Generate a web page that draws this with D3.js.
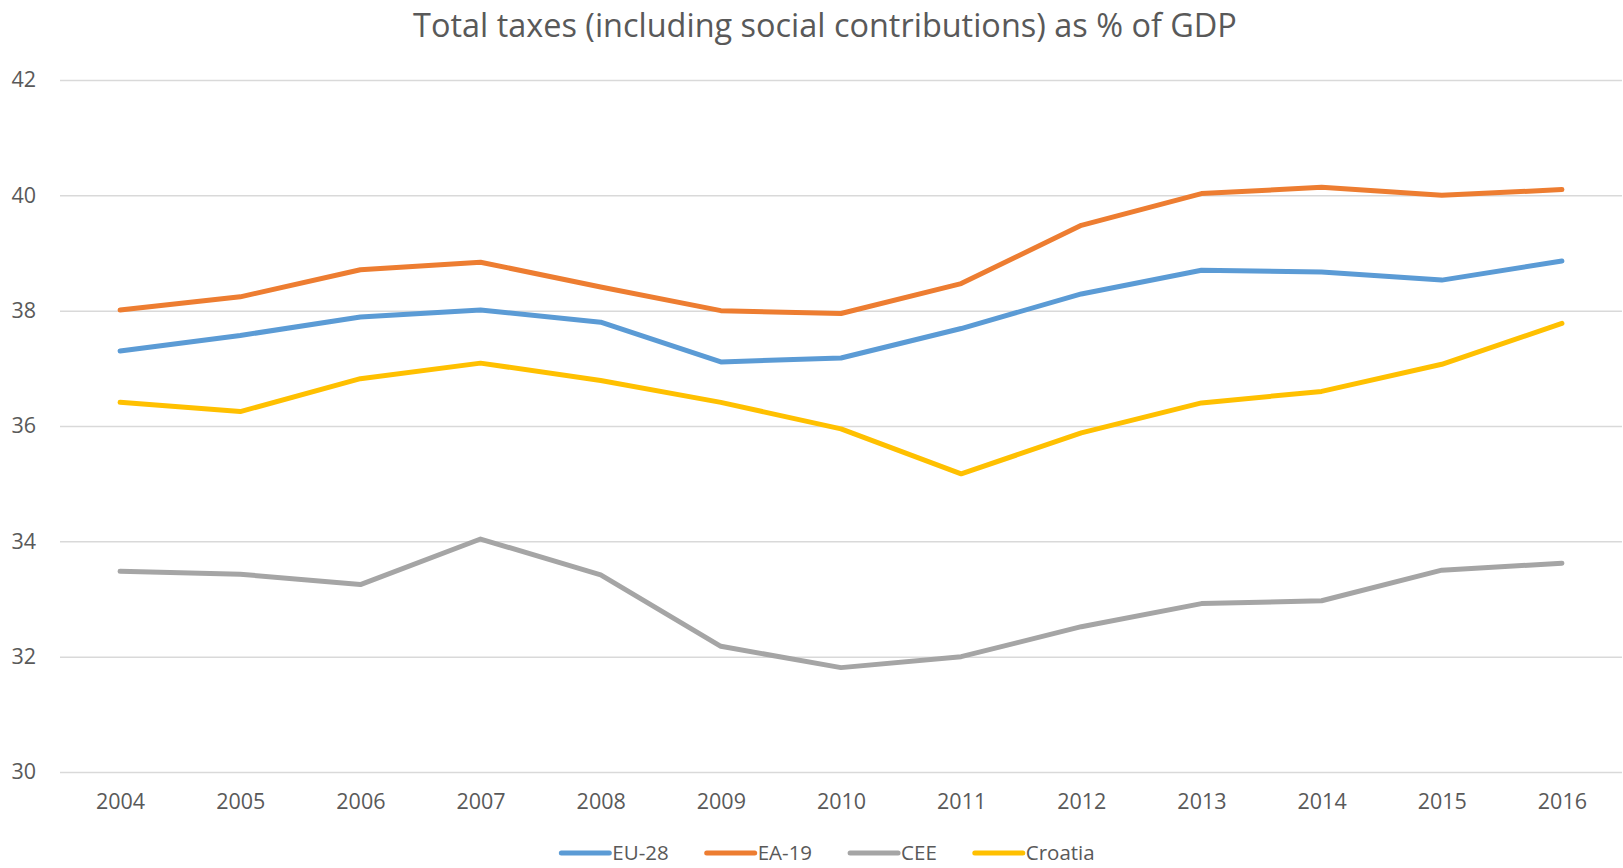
<!DOCTYPE html>
<html>
<head>
<meta charset="utf-8">
<script src="https://cdn.jsdelivr.net/npm/d3@7"></script>
<style>
  html, body { margin: 0; padding: 0; background: #ffffff; }
  svg { display: block; }
  text { font-family: "Open Sans", "DejaVu Sans", sans-serif; fill: #595959; }
</style>
</head>
<body>
<svg id="chart" width="1623" height="868"></svg>
<script>
// Tax revenue series (% of GDP), 2004–2016
const years = ["2004","2005","2006","2007","2008","2009","2010","2011","2012","2013","2014","2015","2016"];
const eu28    = [37.30, 37.57, 37.89, 38.01, 37.80, 37.11, 37.18, 37.69, 38.29, 38.70, 38.67, 38.53, 38.86];
const ea19    = [38.01, 38.24, 38.71, 38.84, 38.41, 38.00, 37.95, 38.47, 39.48, 40.03, 40.14, 40.00, 40.10];
const cee     = [33.48, 33.43, 33.25, 34.04, 33.42, 32.18, 31.81, 32.00, 32.52, 32.92, 32.97, 33.50, 33.62];
const croatia = [36.41, 36.25, 36.82, 37.09, 36.79, 36.41, 35.95, 35.17, 35.88, 36.40, 36.60, 37.07, 37.78];
const seriesNames = ["EU-28", "EA-19", "CEE", "Croatia"];
const yTicks = [30, 32, 34, 36, 38, 40, 42];
const titleText = "Total taxes (including social contributions) as % of GDP";

const series = [
  { name: seriesNames[0], values: eu28,    color: "#5B9BD5" },
  { name: seriesNames[1], values: ea19,    color: "#ED7D31" },
  { name: seriesNames[2], values: cee,     color: "#A5A5A5" },
  { name: seriesNames[3], values: croatia, color: "#FFC000" }
];

const svg = d3.select("#chart");
const plot = { left: 60, right: 1622, top: 80, bottom: 772 };
const labelSize = "21.5px";

const x = d3.scalePoint().domain(years).range([plot.left, plot.right]).padding(0.5);
const y = d3.scaleLinear().domain([30, 42]).range([plot.bottom, plot.top]);

// Title, sized to its measured width
const title = svg.append("text")
  .attr("x", 825).attr("y", 37)
  .attr("text-anchor", "middle")
  .style("font-size", "30px")
  .text(titleText);
const tw = title.node().getComputedTextLength();
title.style("font-size", (30 * 824 / tw).toFixed(2) + "px");

// Horizontal gridlines with value labels
const yAxis = svg.append("g")
  .attr("transform", `translate(${plot.left},0)`)
  .call(d3.axisLeft(y).tickValues(yTicks).tickSize(-(plot.right - plot.left)).tickPadding(24).tickFormat(d3.format("d")));
yAxis.select(".domain").remove();
yAxis.selectAll(".tick line").attr("stroke", "#d9d9d9").attr("stroke-width", 1.5);
yAxis.selectAll(".tick text")
  .attr("fill", "#595959")
  .style("font-size", labelSize)
  .style("font-family", "'Open Sans', sans-serif");

// Category labels
const xAxis = svg.append("g")
  .attr("transform", `translate(0,${plot.bottom})`)
  .call(d3.axisBottom(x).tickSize(0).tickPadding(22));
xAxis.select(".domain").remove();
xAxis.selectAll(".tick text")
  .attr("fill", "#595959")
  .style("font-size", labelSize)
  .style("font-family", "'Open Sans', sans-serif");

// Series lines
const line = d3.line()
  .x((d, i) => x(years[i]))
  .y(d => y(d));

svg.append("g").selectAll("path")
  .data(series)
  .join("path")
  .attr("fill", "none")
  .attr("stroke", d => d.color)
  .attr("stroke-width", 5)
  .attr("stroke-linecap", "round")
  .attr("stroke-linejoin", "round")
  .attr("d", d => line(d.values));

// Legend along the bottom
const legend = svg.append("g");
const legendY = 853;
const swatch = 48, gapText = 3, gapItem = 38;
let cursor = 0;
series.forEach(s => {
  const g = legend.append("g");
  g.append("line")
    .attr("x1", 0).attr("x2", swatch)
    .attr("y1", 0).attr("y2", 0)
    .attr("stroke", s.color).attr("stroke-width", 5).attr("stroke-linecap", "round");
  const t = g.append("text")
    .attr("x", swatch + gapText).attr("y", 0).attr("dy", "0.35em")
    .style("font-size", "20.5px")
    .text(s.name);
  const w = swatch + gapText + t.node().getComputedTextLength();
  g.attr("transform", `translate(${cursor},${legendY})`);
  cursor += w + gapItem;
});
const totalW = cursor - gapItem;
legend.attr("transform", `translate(${828 - totalW / 2},0)`);
</script>
</body>
</html>
